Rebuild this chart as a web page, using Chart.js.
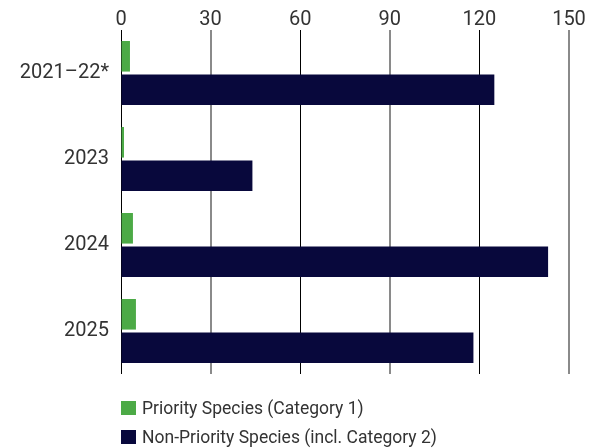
<!DOCTYPE html>
<html>
<head>
<meta charset="utf-8">
<script src="https://cdn.jsdelivr.net/npm/chart.js@4/dist/chart.umd.min.js"></script>
<style>
  html, body { margin: 0; padding: 0; background: #fff; }
  #wrap { position: relative; width: 605px; height: 448px; overflow: hidden; }
  #c { position: absolute; left: 0; top: 0; }
  #legend { position: absolute; left: 121px; top: 393px; font-family: Roboto, sans-serif; font-size: 17.5px; color: #333; }
  .item { display: flex; align-items: center; height: 29px; }
  .box { width: 15px; height: 14px; margin-right: 6px; }
</style>
</head>
<body>
<div id="wrap">
  <canvas id="c" width="605" height="398"></canvas>
  <div id="legend"></div>
</div>
<script>
const categories = ['2021–22*', '2023', '2024', '2025'];
const priorityValues = [3, 1, 4, 5];
const nonPriorityValues = [125, 44, 143, 118];
const seriesNames = ['Priority Species (Category 1)', 'Non-Priority Species (incl. Category 2)'];
const seriesColors = ['#4CAA46', '#08083C'];
const xTicks = [0, 30, 60, 90, 120, 150];

const chart = new Chart(document.getElementById('c'), {
  type: 'bar',
  data: {
    labels: categories,
    datasets: [
      { label: seriesNames[0], data: priorityValues, backgroundColor: seriesColors[0], barPercentage: 0.915, categoryPercentage: 0.777 },
      { label: seriesNames[1], data: nonPriorityValues, backgroundColor: seriesColors[1], barPercentage: 0.915, categoryPercentage: 0.777 }
    ]
  },
  options: {
    indexAxis: 'y',
    responsive: false,
    devicePixelRatio: 1,
    animation: false,
    layout: { padding: { top: 10, right: 36, bottom: 0, left: 0 } },
    plugins: { legend: { display: false }, tooltip: { enabled: false } },
    scales: {
      x: {
        position: 'top',
        min: xTicks[0],
        max: xTicks[xTicks.length - 1],
        afterBuildTicks: s => { s.ticks = xTicks.map(v => ({ value: v })); },
        ticks: { font: { family: 'Roboto', size: 20, lineHeight: 1 }, color: '#333', padding: 0 },
        grid: {
          drawTicks: false,
          color: ctx => (ctx.index % 2 ? '#8a8a8a' : '#000'),
          lineWidth: ctx => (ctx.index % 2 ? 2 : 1)
        },
        border: { display: false }
      },
      y: {
        grid: { display: false, drawTicks: false },
        border: { display: false },
        ticks: { font: { family: 'Roboto', size: 20 }, color: '#333', padding: 12 },
        afterFit: s => { s.width = 121; }
      }
    }
  }
});

const legend = document.getElementById('legend');
chart.data.datasets.forEach(ds => {
  const item = document.createElement('div');
  item.className = 'item';
  const box = document.createElement('span');
  box.className = 'box';
  box.style.background = ds.backgroundColor;
  const txt = document.createElement('span');
  txt.textContent = ds.label;
  item.appendChild(box);
  item.appendChild(txt);
  legend.appendChild(item);
});
</script>
</body>
</html>
